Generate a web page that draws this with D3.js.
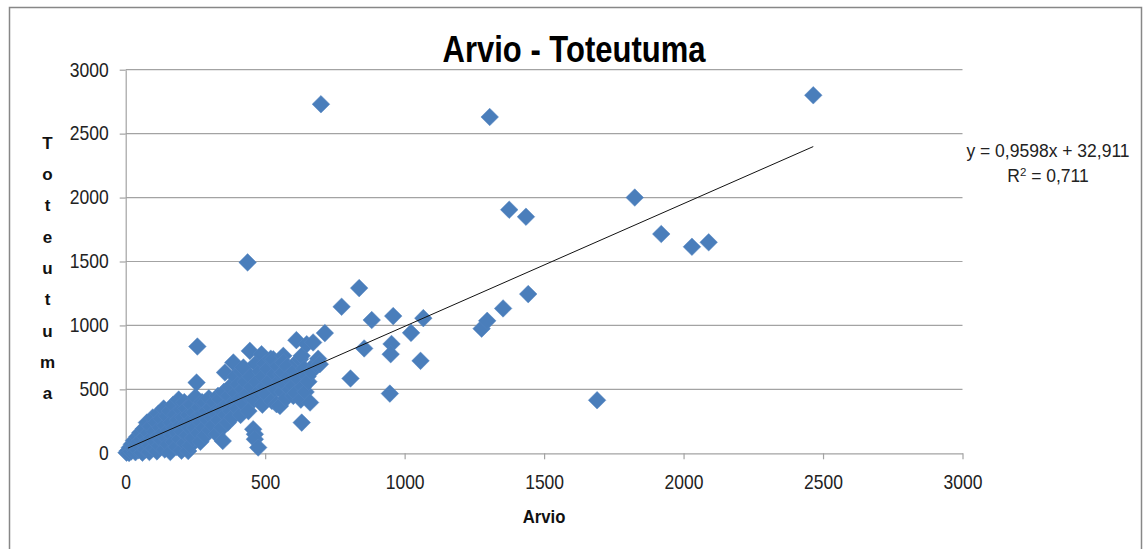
<!DOCTYPE html>
<html>
<head>
<meta charset="utf-8">
<script src="https://cdn.jsdelivr.net/npm/d3@7"></script>
<style>
  body { margin: 0; background: #fff; }
  svg { display: block; }
</style>
</head>
<body>
<svg id="chart"></svg>
<script>
// akselien jaot
const xTicks = [0, 500, 1000, 1500, 2000, 2500, 3000];
const yTicks = [0, 500, 1000, 1500, 2000, 2500, 3000];

// trendiviivan kertoimet
const slope = 0.9598;
const intercept = 32.911;
const trendRange = [8, 2465];
const trendLabel = "y = 0,9598x + 32,911";
const r2Value = "0,711";

// [arvio, toteutuma] - tiheä joukko origon lähellä
const cluster = [
  [3,5],[8,20],[12,2],[15,45],[20,15],[22,70],[28,35],[30,100],[35,8],[38,60],
  [42,130],[45,25],[48,90],[52,160],[55,45],[58,110],[60,5],[64,190],[66,70],[70,130],
  [72,30],[76,240],[78,95],[82,160],[85,10],[88,60],[90,210],[94,120],[97,280],[100,40],
  [104,170],[106,90],[110,240],[112,15],[116,130],[118,310],[122,60],[125,200],[128,270],[130,100],
  [134,160],[136,350],[140,30],[142,220],[146,120],[148,290],[152,70],[155,180],[158,330],[160,10],
  [163,240],[166,140],[170,380],[172,90],[175,200],[178,300],[182,50],[184,160],[188,260],[190,420],
  [194,110],[196,220],[200,340],[200,20],
  [204,170],[206,280],[210,400],[212,80],[216,230],[218,350],[222,140],[224,18],[226,300],[230,200],
  [232,60],[236,380],[238,260],[242,120],[245,320],[248,200],[250,440],[254,553],[257,835],[258,280],
  [262,160],[264,360],[268,90],[270,240],[274,400],[276,310],[280,200],[284,396],[286,140],[290,330],
  [294,260],[298,430],
  [302,180],[306,360],[310,280],[314,220],[318,400],[322,320],[326,150],[331,449],[334,260],[338,423],
  [342,340],[346,200],[348,96],[352,480],[356,632],[358,300],[362,380],[366,240],[370,450],[374,520],
  [378,330],[382,280],[386,710],[388,400],[392,600],[396,470],[400,350],
  [404,540],[408,420],[412,300],[416,640],[420,500],[422,671],[426,380],[430,560],[434,460],[440,330],
  [445,801],[448,600],[452,520],[457,188],[460,420],[463,149],[463,110],[466,700],[470,560],[475,45],
  [478,480],[482,640],[487,775],[490,380],[494,600],[498,520],[500,700],
  [505,460],[510,660],[515,560],[520,740],[524,410],[529,736],[534,620],[538,500],[541,384],[546,680],
  [550,560],[553,370],[558,620],[562,480],[565,762],[565,710],[565,632],[570,540],[575,430],[580,680],
  [585,600],[590,500],[595,560],[601,527],[601,449],
  [605,640],[610,470],[612,885],[616,720],[620,580],[625,736],[628,420],[631,240],[631,762],[636,520],
  [640,660],[645,480],[649,853],[652,600],[655,560],[661,397],[666,640],[672,867],[680,700],[690,740],
  [696,697],[714,940]
];

// [arvio, toteutuma] - hajanaiset pisteet
const outliers = [
  [437,1493],[700,2730],[1305,2630],[2465,2800],[1825,2000],[1375,1905],[1435,1850],[1920,1715],
  [2030,1615],[2090,1650],[837,1292],[1443,1245],[1353,1133],[774,1146],[1276,975],[1296,1036],
  [1067,1057],[959,1073],[882,1042],[1023,942],[953,855],[855,820],[950,775],[1057,723],
  [806,585],[947,467],[1690,415]
];

const points = cluster.concat(outliers);

const width = 1143;
const height = 549;
const plot = { left: 125.7, right: 962.5, top: 69.7, bottom: 453.3 };
const font = "'Liberation Sans', Arial, sans-serif";

const svg = d3.select("#chart")
  .attr("width", width)
  .attr("height", height);

// kaavion reunus
svg.append("rect")
  .attr("x", 9.5).attr("y", 7.5)
  .attr("width", 1132).attr("height", 560)
  .attr("fill", "#fff")
  .attr("stroke", "#878787")
  .attr("stroke-width", 1.5);

const x = d3.scaleLinear().domain([0, 3000]).range([plot.left, plot.right]);
const y = d3.scaleLinear().domain([0, 3000]).range([plot.bottom, plot.top]);

// vaakasuorat apuviivat
svg.append("g")
  .selectAll("line")
  .data(yTicks.filter(d => d > 0))
  .join("line")
  .attr("x1", plot.left).attr("x2", plot.right)
  .attr("y1", d => y(d)).attr("y2", d => y(d))
  .attr("stroke", "#a3a3a3")
  .attr("stroke-width", 1.2);

// y-akseli
const yAxis = svg.append("g")
  .attr("transform", `translate(${plot.left},0)`)
  .call(d3.axisLeft(y).tickValues(yTicks).tickFormat(d3.format("d"))
    .tickSize(6).tickPadding(11).tickSizeOuter(0));
yAxis.select(".domain").attr("stroke", "#a3a3a3").attr("stroke-width", 1.2);
yAxis.selectAll(".tick line").attr("stroke", "#a3a3a3").attr("stroke-width", 1.2);
yAxis.selectAll(".tick text")
  .attr("font-family", font)
  .attr("font-size", 17.5)
  .attr("fill", "#222")
  .attr("transform", "scale(1,1.13)");

// x-akseli
const xAxis = svg.append("g")
  .attr("transform", `translate(0,${plot.bottom})`)
  .call(d3.axisBottom(x).tickValues(xTicks).tickFormat(d3.format("d"))
    .tickSize(6).tickPadding(13).tickSizeOuter(0));
xAxis.select(".domain").attr("stroke", "#a3a3a3").attr("stroke-width", 1.2);
xAxis.selectAll(".tick line").attr("stroke", "#a3a3a3").attr("stroke-width", 1.2);
xAxis.selectAll(".tick text")
  .attr("font-family", font)
  .attr("font-size", 17.5)
  .attr("fill", "#222")
  .attr("transform", "scale(1,1.13)");

// pisteet (vinoneliöt)
const r = 8.8;
svg.append("g")
  .selectAll("path")
  .data(points)
  .join("path")
  .attr("transform", d => `translate(${x(d[0])},${y(d[1])})`)
  .attr("d", `M0,${-r}L${r},0L0,${r}L${-r},0Z`)
  .attr("fill", "#4a7ebb")
  .attr("stroke", "#5585c0")
  .attr("stroke-width", 0.5);

// lineaarinen trendiviiva
svg.append("line")
  .attr("x1", x(trendRange[0])).attr("y1", y(slope * trendRange[0] + intercept))
  .attr("x2", x(trendRange[1])).attr("y2", y(slope * trendRange[1] + intercept))
  .attr("stroke", "#111")
  .attr("stroke-width", 1);

// otsikko, hieman pystyyn venytettynä
svg.append("text")
  .attr("transform", "translate(574,61.5) scale(1,1.2)")
  .attr("text-anchor", "middle")
  .attr("font-family", font)
  .attr("font-weight", "bold")
  .attr("font-size", 31)
  .attr("fill", "#000")
  .text("Arvio - Toteutuma");

// x-akselin nimi
svg.append("text")
  .attr("transform", "translate(544,523) scale(1,1.12)")
  .attr("text-anchor", "middle")
  .attr("font-family", font)
  .attr("font-weight", "bold")
  .attr("font-size", 16.7)
  .attr("fill", "#111")
  .text("Arvio");

// y-akselin nimi pystysuoraan kirjain kerrallaan
svg.append("g")
  .selectAll("text")
  .data("Toteutuma".split(""))
  .join("text")
  .attr("x", 47.5)
  .attr("y", (d, i) => 142.7 + i * 31.3)
  .attr("dy", "0.36em")
  .attr("text-anchor", "middle")
  .attr("font-family", font)
  .attr("font-weight", "bold")
  .attr("font-size", 17)
  .attr("fill", "#111")
  .text(d => d);

// trendiviivan yhtälö
const eq = svg.append("text")
  .attr("text-anchor", "middle")
  .attr("font-family", font)
  .attr("font-size", 17.5)
  .attr("fill", "#222");
eq.append("tspan").attr("x", 1048).attr("y", 157).text(trendLabel);
const r2 = eq.append("tspan").attr("x", 1048).attr("y", 181.5);
r2.append("tspan").text("R");
r2.append("tspan").attr("dy", -6).attr("font-size", 11.5).text("2");
r2.append("tspan").attr("dy", 6).text(" = " + r2Value);
</script>
</body>
</html>
